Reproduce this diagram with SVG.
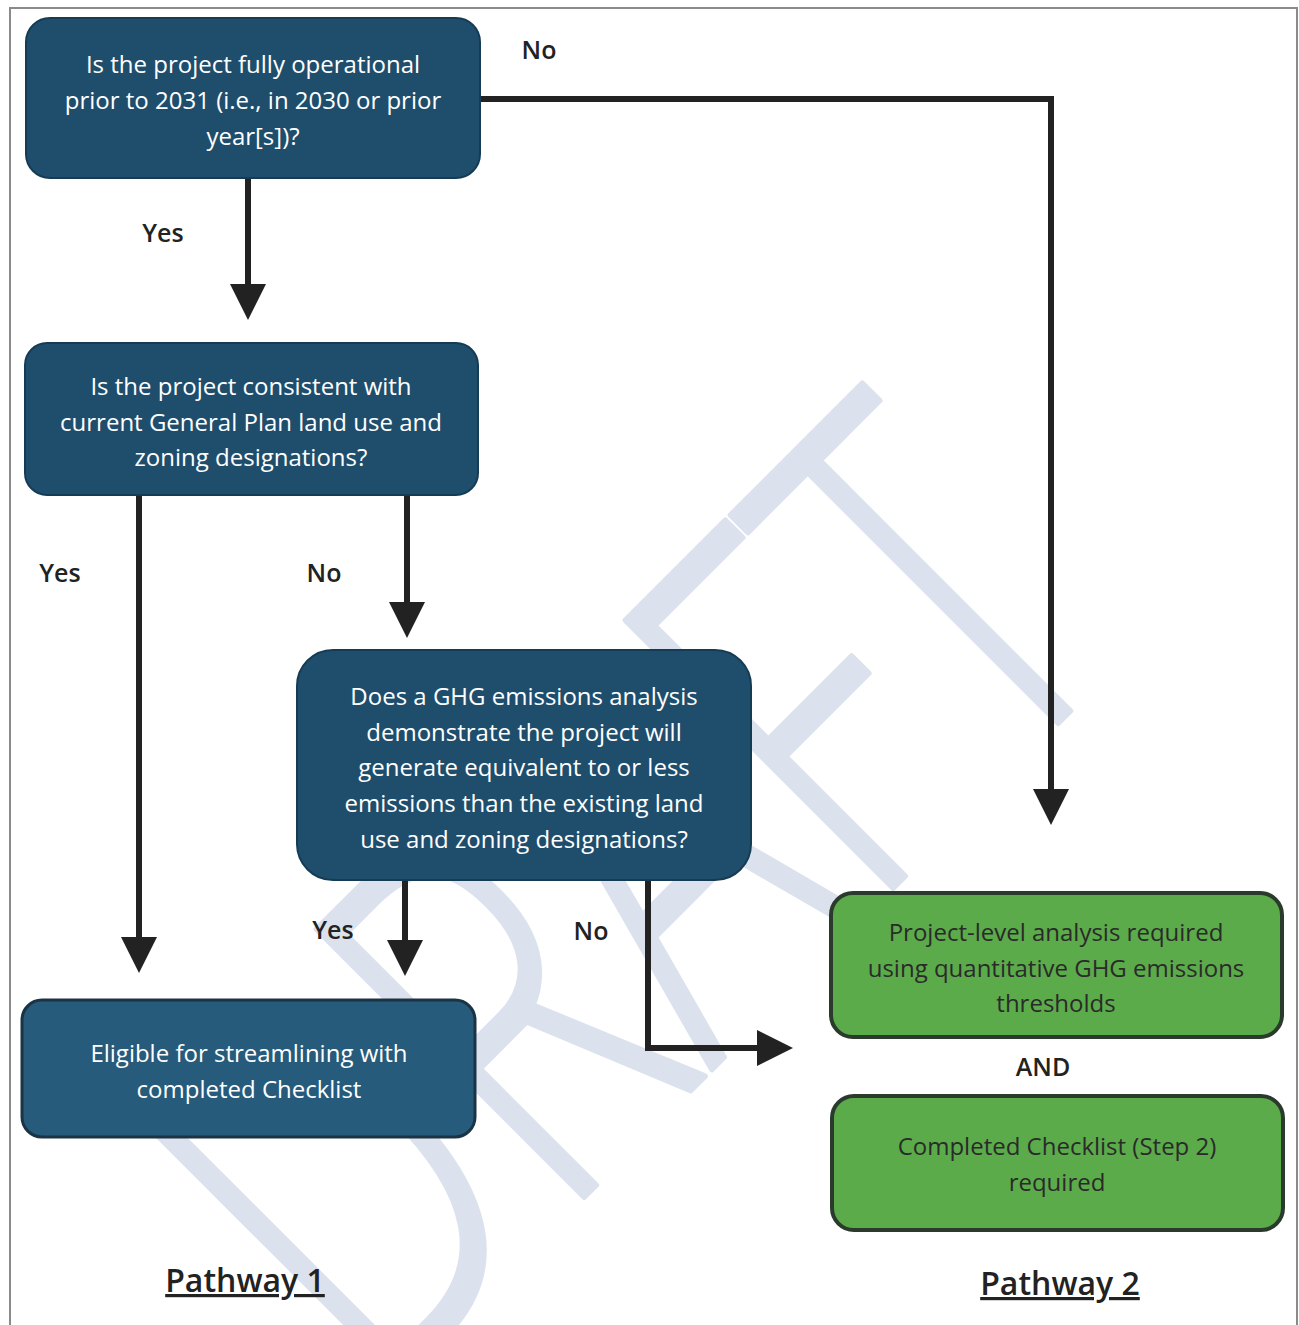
<svg xmlns="http://www.w3.org/2000/svg" width="1299" height="1325" viewBox="0 0 1299 1325">
<style>
.bg{fill:#ffffff}
.frame{stroke:#8a8a8a;stroke-width:2;fill:none}
.wm{font-family:"Open Sans","Noto Sans",sans-serif;font-weight:300;font-size:530px;fill:#dce2ed;stroke:#dce2ed;stroke-width:6;stroke-linejoin:round}
.blue{fill:#1f4e6d;stroke:#163c55;stroke-width:2}
.blue2{fill:#265b7b;stroke:#1a3446;stroke-width:3}
.green{fill:#5cab4b;stroke:#2a3a2c;stroke-width:4}
.wt{font-family:"Open Sans","Noto Sans",sans-serif;font-size:24px;fill:#ffffff;text-anchor:middle}
.gt{font-family:"Open Sans","Noto Sans",sans-serif;font-size:24px;fill:#2a2a2a;text-anchor:middle}
.lbl{font-family:"Open Sans","Noto Sans",sans-serif;font-size:25px;font-weight:600;fill:#222222;text-anchor:middle}
.pw{font-family:"Open Sans","Noto Sans",sans-serif;font-size:32px;font-weight:600;fill:#222222;text-anchor:middle;text-decoration:underline}
.conn{stroke:#222222;stroke-width:6;fill:none;stroke-linejoin:miter}
</style>
<defs>
<marker id="ah" markerUnits="userSpaceOnUse" markerWidth="36" markerHeight="36" viewBox="0 0 36 36" refX="2" refY="18" orient="auto">
<path d="M0,0 L36,18 L0,36 Z" fill="#222222"/>
</marker>
</defs>
<rect class="bg" x="0" y="0" width="1299" height="1325"/>
<g id="frame">
<path class="frame" d="M10,1325 V8 H1297 V1325"/>
</g>
<g id="watermark">
<text class="wm" transform="translate(375,1406) rotate(-45) scale(0.69,1)" x="0" y="0">DRAFT</text>
</g>
<g id="connectors">
<path class="conn" d="M480,99 H1051 V791" marker-end="url(#ah)"/>
<path class="conn" d="M248,178 V286" marker-end="url(#ah)"/>
<path class="conn" d="M139,495 V939" marker-end="url(#ah)"/>
<path class="conn" d="M407,495 V604" marker-end="url(#ah)"/>
<path class="conn" d="M405,880 V942" marker-end="url(#ah)"/>
<path class="conn" d="M648,880 V1048 H759" marker-end="url(#ah)"/>
<text class="lbl" x="539" y="59">No</text>
<text class="lbl" x="163" y="242">Yes</text>
<text class="lbl" x="60" y="582">Yes</text>
<text class="lbl" x="324" y="582">No</text>
<text class="lbl" x="333" y="939">Yes</text>
<text class="lbl" x="591" y="940">No</text>
</g>
<g id="q1">
<rect class="blue" x="26" y="18" width="454" height="160" rx="24"/>
<text class="wt" x="253" y="73">Is the project fully operational</text>
<text class="wt" x="253" y="109">prior to 2031 (i.e., in 2030 or prior</text>
<text class="wt" x="253" y="145">year[s])?</text>
</g>
<g id="q2">
<rect class="blue" x="25" y="343" width="453" height="152" rx="22"/>
<text class="wt" x="251" y="395">Is the project consistent with</text>
<text class="wt" x="251" y="431">current General Plan land use and</text>
<text class="wt" x="251" y="466">zoning designations?</text>
</g>
<g id="q3">
<rect class="blue" x="297" y="650" width="454" height="230" rx="36"/>
<text class="wt" x="524" y="705">Does a GHG emissions analysis</text>
<text class="wt" x="524" y="741">demonstrate the project will</text>
<text class="wt" x="524" y="776">generate equivalent to or less</text>
<text class="wt" x="524" y="812">emissions than the existing land</text>
<text class="wt" x="524" y="848">use and zoning designations?</text>
</g>
<g id="eligible">
<rect class="blue2" x="22" y="1000" width="453" height="137" rx="20"/>
<text class="wt" x="249" y="1062">Eligible for streamlining with</text>
<text class="wt" x="249" y="1098">completed Checklist</text>
</g>
<g id="project-level">
<rect class="green" x="831" y="893" width="451" height="144" rx="22"/>
<text class="gt" x="1056" y="941">Project-level analysis required</text>
<text class="gt" x="1056" y="977">using quantitative GHG emissions</text>
<text class="gt" x="1056" y="1012">thresholds</text>
</g>
<g id="and-label">
<text class="lbl" x="1043" y="1076">AND</text>
</g>
<g id="checklist">
<rect class="green" x="832" y="1096" width="451" height="134" rx="22"/>
<text class="gt" x="1057" y="1155">Completed Checklist (Step 2)</text>
<text class="gt" x="1057" y="1191">required</text>
</g>
<g id="pathway1">
<text class="pw" x="245" y="1292">Pathway 1</text>
</g>
<g id="pathway2">
<text class="pw" x="1060" y="1295">Pathway 2</text>
</g>
</svg>
